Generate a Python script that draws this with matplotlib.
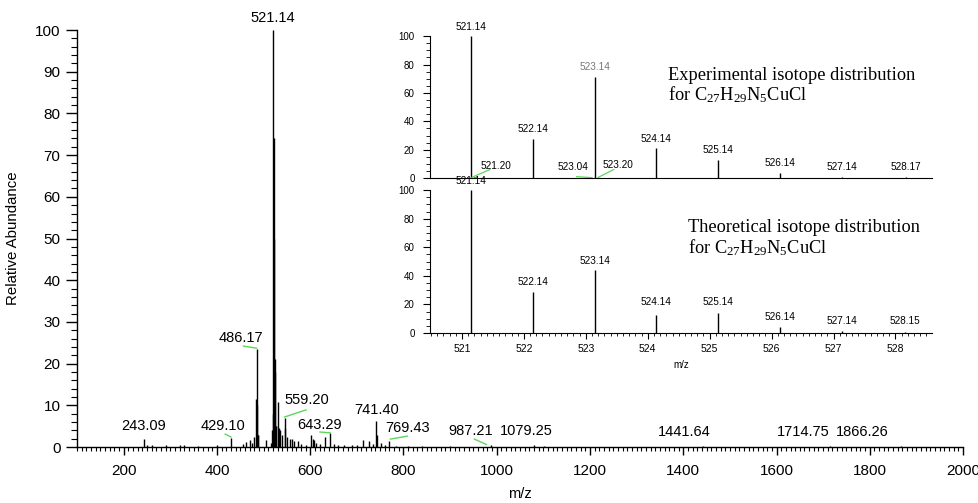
import matplotlib
matplotlib.use("Agg")
import matplotlib.pyplot as plt
from matplotlib.ticker import MultipleLocator

plt.rcParams['font.family'] = ['Liberation Sans', 'DejaVu Sans']
plt.rcParams['mathtext.fontset'] = 'custom'
plt.rcParams['mathtext.rm'] = 'Liberation Serif'
plt.rcParams['mathtext.it'] = 'Liberation Serif:italic'

# ---------------- data: full spectrum ----------------
main_mz = [243.09, 250, 260, 290, 320, 330, 360, 400, 429.10, 455, 462, 470, 476, 480,
           484.2, 485.2, 486.17, 487.2, 489, 505, 515, 519.14, 520.14, 521.14, 522.14,
           523.14, 524.14, 525.14, 526.14, 527.5, 531, 533, 535, 539, 545, 547, 551,
           556, 560, 565, 573, 580, 590, 601, 605, 609, 613, 620, 632, 643.29, 650,
           660, 672, 690, 700, 714, 727, 735, 741.40, 743, 752, 760, 769.43, 785, 810,
           840, 900, 987.21, 1079.25, 1101, 1441.64, 1714.75, 1866.26]
main_int = [2.0, 0.6, 0.4, 0.5, 0.4, 0.5, 0.3, 0.4, 2.2, 0.8, 1.2, 1.8, 0.9, 2.5,
            11.5, 10.0, 23.5, 3.0, 3.0, 1.8, 1.0, 4.0, 8.0, 100.0, 50.0,
            74.0, 21.0, 18.0, 5.0, 5.0, 10.8, 4.5, 4.0, 3.0, 7.0, 4.5, 2.5,
            2.0, 2.0, 1.5, 1.5, 0.8, 0.6, 2.8, 2.0, 1.8, 1.0, 0.8, 2.5, 3.4, 0.8,
            0.6, 0.6, 0.4, 0.5, 1.7, 1.5, 0.8, 6.2, 3.0, 1.0, 0.5, 1.5, 0.3, 0.3,
            0.3, 0.2, 0.6, 0.6, 0.3, 0.2, 0.2, 0.2]

main_labels = ["521.14", "486.17", "559.20", "243.09", "429.10", "643.29", "741.40",
               "769.43", "987.21", "1079.25", "1441.64", "1714.75", "1866.26"]
# label anchor (bottom-centre) in data coordinates
main_label_x = [520.6, 452, 593.5, 243.8, 413, 619, 741.6, 808, 945, 1063, 1402, 1658, 1784]
main_label_y = [101.2, 24.4, 9.5, 3.3, 3.3, 3.7, 7.1, 2.8, 2.1, 2.1, 1.9, 1.9, 1.9]
# green leader lines (x0, y0, x1, y1)
main_leaders = [(457, 24.2, 485, 23.7), (545, 7.2, 591, 8.9), (417.6, 3.1, 430, 2.4),
                (621, 3.6, 643, 3.4), (772, 1.9, 808, 2.6), (952, 1.9, 978, 0.6)]

# ---------------- data: isotope patterns ----------------
exp_mz = [521.14, 521.20, 522.14, 523.04, 523.14, 523.20, 524.14, 525.14, 526.14, 527.14, 528.17]
exp_int = [100.0, 0.5, 27.5, 0.3, 71.5, 0.5, 21.0, 12.7, 3.7, 0.8, 0.5]
exp_labels = ["521.14", "521.20", "522.14", "523.04", "523.14", "523.20", "524.14",
              "525.14", "526.14", "527.14", "528.17"]
exp_label_x = [521.14, 521.55, 522.14, 522.80, 523.14, 523.52, 524.14, 525.14, 526.14, 527.14, 528.17]
exp_label_y = [103, 5, 31, 4.5, 75, 5.5, 24, 16, 7, 4, 4]
exp_label_col = ["k", "k", "k", "k", "#777777", "k", "k", "k", "k", "k", "k"]
exp_leaders = [(521.16, 0.5, 521.45, 6.0), (522.85, 1.0, 523.10, 0.3), (523.20, 0.5, 523.45, 6.0)]

theo_mz = [521.14, 522.14, 523.14, 524.14, 525.14, 526.14, 527.14, 528.15]
theo_int = [100.0, 29.0, 44.0, 12.6, 14.0, 4.0, 1.2, 0.8]
theo_labels = ["521.14", "522.14", "523.14", "524.14", "525.14", "526.14", "527.14", "528.15"]
theo_label_y = [103, 32, 47, 18, 18, 8, 5, 5]

GREEN = "#5cd65c"

fig = plt.figure(figsize=(9.79, 5.03), dpi=100)

# ---------------- main axes ----------------
ax = fig.add_axes([0.0787, 0.1113, 0.905, 0.829])
ax.vlines(main_mz, 0, main_int, color="black", lw=1.0)
ax.set_xlim(100, 2000)
ax.set_ylim(0, 100)
for s in ("top", "right"):
    ax.spines[s].set_visible(False)
ax.spines["left"].set_linewidth(1.0)
ax.spines["bottom"].set_linewidth(1.0)
ax.xaxis.set_major_locator(MultipleLocator(200))
ax.xaxis.set_minor_locator(MultipleLocator(10))
ax.yaxis.set_major_locator(MultipleLocator(10))
ax.yaxis.set_minor_locator(MultipleLocator(2))
ax.tick_params(axis="y", which="major", length=8, width=1, labelsize=11, pad=4)
ax.tick_params(axis="y", which="minor", length=4, width=0.8)
ax.tick_params(axis="x", which="major", length=6, width=1, labelsize=11, pad=6)
ax.tick_params(axis="x", which="minor", length=3, width=0.8)
ax.set_xlabel("m/z", fontsize=10.5, labelpad=7)
ax.set_ylabel("Relative Abundance", fontsize=10.8, labelpad=11)

for t, x, y in zip(main_labels, main_label_x, main_label_y):
    ax.text(x, y, t, ha="center", va="bottom", fontsize=10.5, clip_on=False)
for x0, y0, x1, y1 in main_leaders:
    ax.plot([x0, x1], [y0, y1], color=GREEN, lw=1.0)

# ---------------- inset: experimental ----------------
def style_inset(a):
    a.set_xlim(520.48, 528.59)
    a.set_ylim(0, 100)
    for s in ("top", "right"):
        a.spines[s].set_visible(False)
    a.spines["left"].set_linewidth(0.8)
    a.spines["bottom"].set_linewidth(0.8)
    a.yaxis.set_major_locator(MultipleLocator(20))
    a.yaxis.set_minor_locator(MultipleLocator(5))
    a.tick_params(axis="y", which="major", length=5, width=0.8, labelsize=7, pad=6)
    a.tick_params(axis="y", which="minor", length=3, width=0.6)
    a.patch.set_alpha(0)

SERIF = dict(family="Liberation Serif", fontsize=13.2, ha="left", va="baseline")

ax1 = fig.add_axes([0.439, 0.646, 0.513, 0.282])
style_inset(ax1)
ax1.vlines(exp_mz, 0, exp_int, color="black", lw=1.0)
ax1.set_xticks([])
for t, x, y, c in zip(exp_labels, exp_label_x, exp_label_y, exp_label_col):
    ax1.text(x, y, t, ha="center", va="bottom", fontsize=7.2, color=c, clip_on=False)
for x0, y0, x1, y1 in exp_leaders:
    ax1.plot([x0, x1], [y0, y1], color=GREEN, lw=0.9)
ax1.text(0.474, 0.69, "Experimental isotope distribution", transform=ax1.transAxes, **SERIF)
ax1.text(0.474, 0.549, r"for C$_{27}$H$_{29}$N$_5$CuCl", transform=ax1.transAxes, **SERIF)

# ---------------- inset: theoretical ----------------
ax2 = fig.add_axes([0.439, 0.338, 0.513, 0.284])
style_inset(ax2)
ax2.vlines(theo_mz, 0, theo_int, color="black", lw=1.0)
ax2.xaxis.set_major_locator(MultipleLocator(1))
ax2.xaxis.set_minor_locator(MultipleLocator(0.1))
ax2.tick_params(axis="x", which="major", length=4, width=0.8, labelsize=7.5, pad=4)
ax2.tick_params(axis="x", which="minor", length=2, width=0.6)
ax2.set_xlabel("m/z", fontsize=7, labelpad=4)
for t, x, y in zip(theo_labels, theo_mz, theo_label_y):
    ax2.text(x, y, t, ha="center", va="bottom", fontsize=7.2, clip_on=False)
ax2.text(0.514, 0.706, "Theoretical isotope distribution", transform=ax2.transAxes, **SERIF)
ax2.text(0.514, 0.559, r"for C$_{27}$H$_{29}$N$_5$CuCl", transform=ax2.transAxes, **SERIF)

fig.savefig("out.png", dpi=100)
